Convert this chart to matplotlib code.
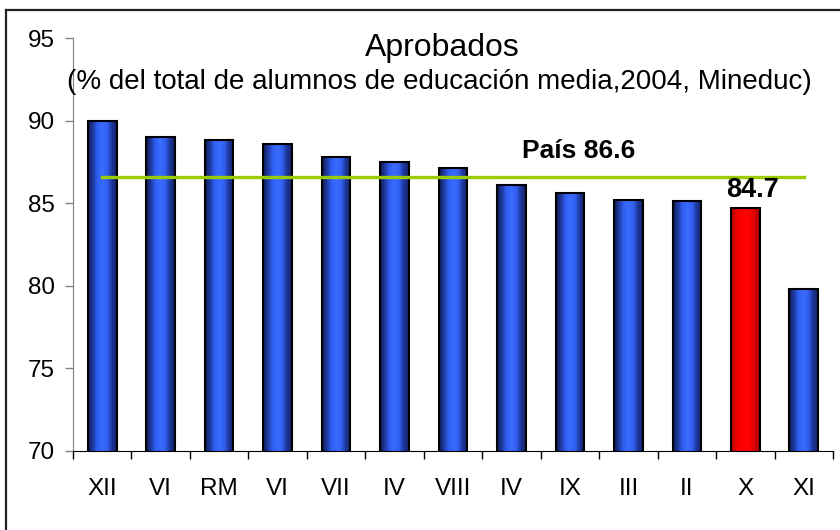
import numpy as np
import matplotlib.pyplot as plt
from matplotlib.colors import LinearSegmentedColormap
from matplotlib.lines import Line2D

plt.rcParams['font.family'] = ['Liberation Sans', 'DejaVu Sans']

# Regiones y porcentaje de aprobados (educación media, 2004)
regiones = ['XII', 'VI', 'RM', 'VI', 'VII', 'IV', 'VIII', 'IV', 'IX', 'III', 'II', 'X', 'XI']
aprobados = [90.0, 89.0, 88.8, 88.6, 87.8, 87.5, 87.1, 86.1, 85.6, 85.2, 85.1, 84.7, 79.8]
destacada = 'X'
pais = 86.6

# degradados tipo Excel para las barras
azul = LinearSegmentedColormap.from_list('azul', ['#0f1c55', '#1f3aa0', '#3060f5', '#3a6cff', '#3260f0', '#1c3598', '#14246a'])
rojo = LinearSegmentedColormap.from_list('rojo', ['#b00000', '#f00000', '#ff0000', '#ff0000', '#e00000', '#a00000'])
grad = np.linspace(0, 1, 64).reshape(1, -1)

fig = plt.figure(figsize=(8.4, 5.3), dpi=100)
ax = fig.add_axes([0.0869, 0.1496, 0.9048, 0.7787])

x = np.arange(len(regiones))
ancho = 0.49
ymin = 70
for i, (reg, val) in enumerate(zip(regiones, aprobados)):
    cmap = rojo if reg == destacada else azul
    ax.imshow(grad, cmap=cmap, extent=[i - ancho / 2, i + ancho / 2, ymin, val],
              aspect='auto', zorder=2, interpolation='bilinear')
ax.bar(x, aprobados, width=ancho, fill=False, edgecolor='black', linewidth=1.5, zorder=3)

# promedio del país
ax.plot([x[0], x[-1]], [pais, pais], color='#99cc00', linewidth=2.4, zorder=4)
ax.text(8.15, pais + 1.55, f'País {pais}', fontsize=19, fontweight='bold',
        ha='center', va='center', zorder=5)
idx = regiones.index(destacada)
ax.text(idx + 0.13, aprobados[idx] + 1.1, f'{aprobados[idx]}', fontsize=19.5,
        fontweight='bold', ha='center', va='center', zorder=5)

ax.set_xlim(-0.5, len(regiones) - 0.5)
ax.set_ylim(70, 95)
ax.set_yticks([70, 75, 80, 85, 90, 95])
ax.tick_params(axis='y', labelsize=17.5, length=6, width=1, color='#808080', direction='out', pad=7)
ax.set_xticks(x)
ax.set_xticklabels(regiones, fontsize=17.5)
ax.tick_params(axis='x', length=0, pad=19.5)
ax.set_xticks(np.arange(len(regiones) + 1) - 0.5, minor=True)
ax.tick_params(axis='x', which='minor', length=6, width=1, color='black', direction='out')

for s in ['top', 'right']:
    ax.spines[s].set_visible(False)
ax.spines['left'].set_color('#808080')
ax.spines['bottom'].set_color('black')

fig.text(0.527, 0.910, 'Aprobados', fontsize=23, ha='center', va='center')
fig.text(0.523, 0.845, '(% del total de alumnos de educación media,2004, Mineduc)',
         fontsize=20, ha='center', va='center')

# marco del gráfico
fig.add_artist(Line2D([6 / 840, 6 / 840], [0, 1 - 10 / 530], transform=fig.transFigure, color='#222222', linewidth=1.6))
fig.add_artist(Line2D([6 / 840, 1], [1 - 10 / 530, 1 - 10 / 530], transform=fig.transFigure, color='#222222', linewidth=1.6))

fig.savefig('out.png', dpi=100)
